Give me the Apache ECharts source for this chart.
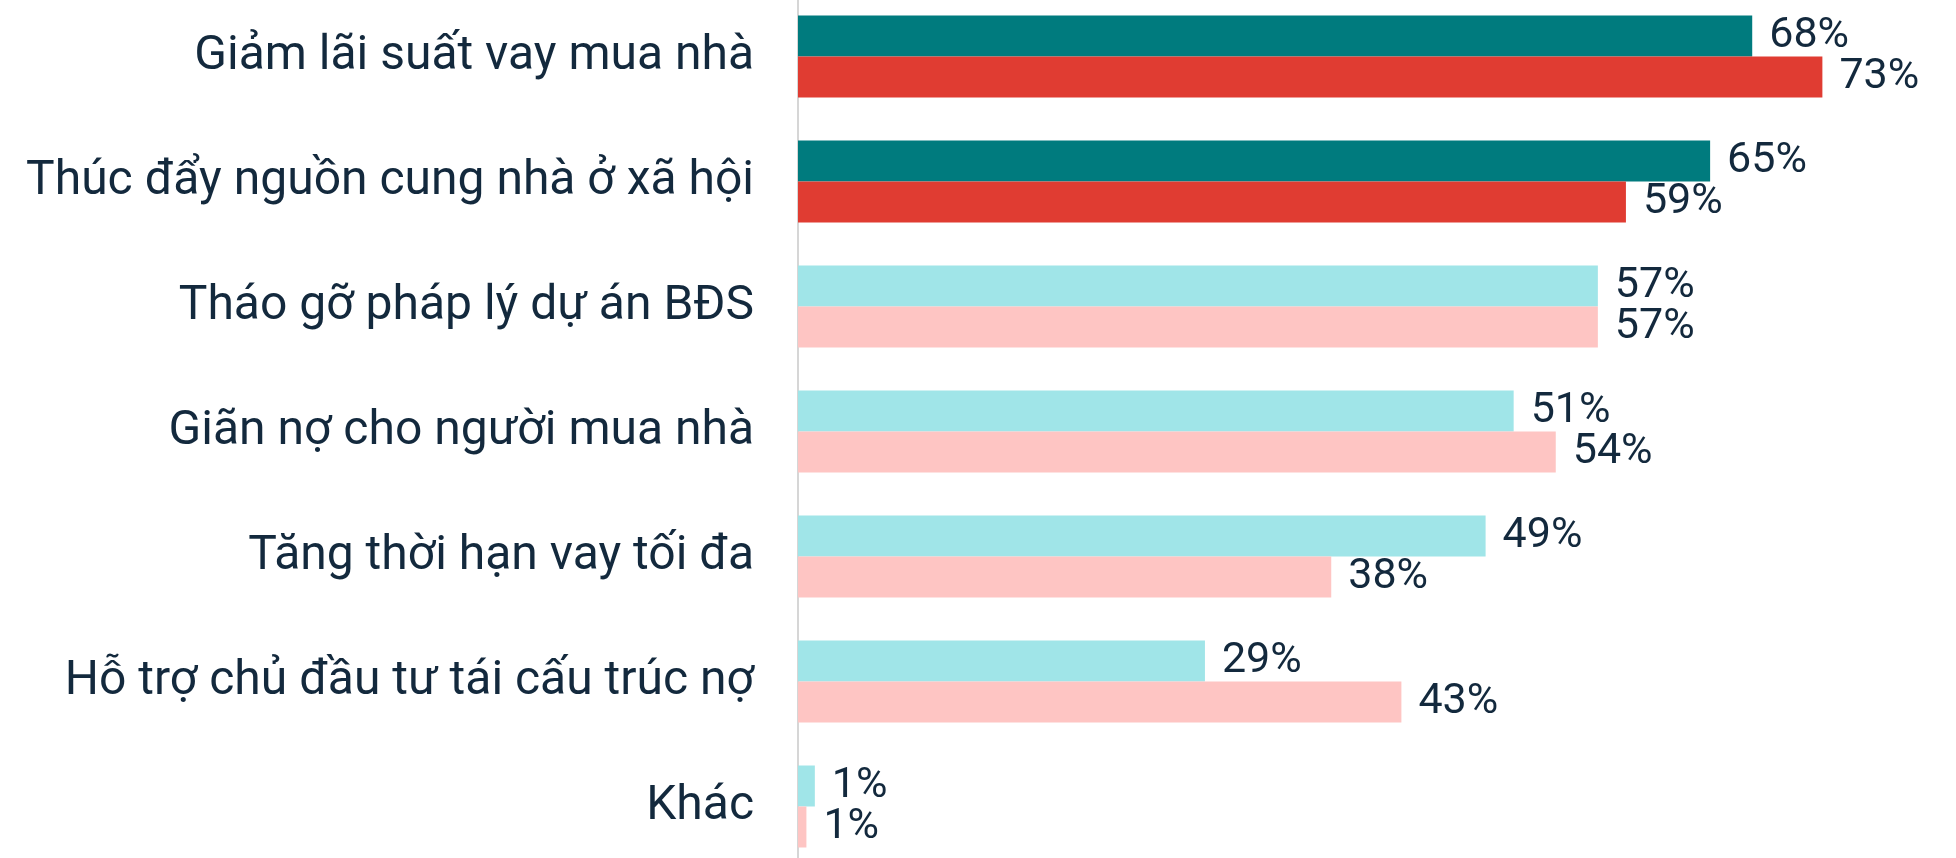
<!DOCTYPE html>
<html>
<head>
<meta charset="utf-8">
<script src="https://cdn.jsdelivr.net/npm/echarts@6/dist/echarts.min.js"></script>
<style>
html,body{margin:0;padding:0;background:#fff;}
#chart{width:1956px;height:858px;}
</style>
</head>
<body>
<div id="chart"></div>
<script>
const categories = [
  "Giảm lãi suất vay mua nhà",
  "Thúc đẩy nguồn cung nhà ở xã hội",
  "Tháo gỡ pháp lý dự án BĐS",
  "Giãn nợ cho người mua nhà",
  "Tăng thời hạn vay tối đa",
  "Hỗ trợ chủ đầu tư tái cấu trúc nợ",
  "Khác"
];
const seriesA = [68, 65, 57, 51, 49, 29, 1.2];
const seriesB = [73, 59, 57, 54, 38, 43, 0.6];
const highlightCount = 2;
const colorsA = ["#007b7e", "#a0e5e8"];
const colorsB = ["#e03c32", "#fec5c3"];

function build(vals, cols) {
  return vals.map((v, i) => ({
    value: v,
    itemStyle: { color: i < highlightCount ? cols[0] : cols[1] }
  }));
}

const chart = echarts.init(document.getElementById('chart'));
const labelCfg = {
  show: true,
  position: 'right',
  distance: 17,
  fontFamily: 'Roboto',
  fontSize: 43,
  color: '#13293d',
  formatter: p => Math.round(p.value) + '%'
};
chart.setOption({
  animation: false,
  grid: { left: 798, right: 41, top: -6, height: 875, containLabel: false, outerBoundsMode: 'none' },
  xAxis: {
    type: 'value', min: 0, max: 79.6,
    show: false
  },
  yAxis: {
    type: 'category',
    data: categories,
    inverse: true,
    axisLine: { show: true, lineStyle: { color: '#d6d6d6', width: 2 } },
    axisTick: { show: false },
    axisLabel: {
      margin: 44,
      fontFamily: 'Roboto',
      fontSize: 48,
      color: '#13293d',
      padding: [10, 0, 0, 0]
    }
  },
  series: [
    { type: 'bar', data: build(seriesA, colorsA), barWidth: 41, barGap: '0%', label: labelCfg },
    { type: 'bar', data: build(seriesB, colorsB), barWidth: 41, barGap: '0%', label: labelCfg }
  ]
});
</script>
</body>
</html>
